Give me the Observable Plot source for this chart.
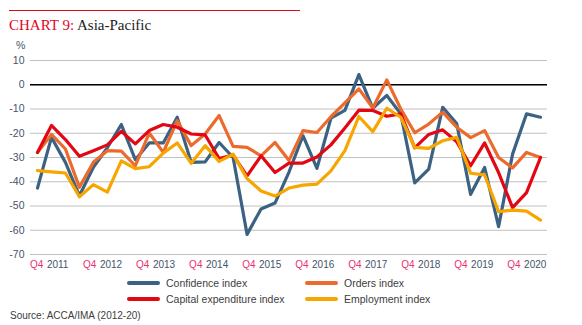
<!DOCTYPE html>
<html><head><meta charset="utf-8">
<script src="https://cdn.jsdelivr.net/npm/d3@7"></script>
<script src="https://cdn.jsdelivr.net/npm/@observablehq/plot@0.6"></script>
<style>
body{margin:0;background:#fff;}
#wrap{position:relative;width:582px;height:325px;overflow:hidden;font-family:"Liberation Sans",Arial,sans-serif;}
#topline{position:absolute;left:9px;top:10px;width:291px;height:1.3px;background:#e3051b;}
#title{position:absolute;left:9px;top:18px;font-family:"Liberation Serif",serif;font-size:15px;line-height:15px;color:#1c1c1c;white-space:nowrap;}
#title .red{color:#e3051b;}
#pct{position:absolute;left:16px;top:39px;font-size:10.5px;line-height:12px;color:#44546a;}
#chart{position:absolute;left:0;top:36px;}
.lg{position:absolute;font-size:10.5px;line-height:12px;color:#404040;white-space:nowrap;}
.sw{position:absolute;width:33px;height:4px;border-radius:2px;}
#source{position:absolute;left:10px;top:310px;font-size:10px;line-height:12px;color:#404040;white-space:nowrap;}
</style></head><body>
<div id="wrap">
 <div id="topline"></div>
 <div id="title"><span class="red">CHART 9:</span> Asia-Pacific</div>
 <div id="pct">%</div>
 <div id="chart"></div>
 <div id="legend"></div>
 <div id="source">Source: ACCA/IMA (2012-20)</div>
</div>
<script>
// Series values, one per quarter (37 points)
const confidence = [-42.6,-21.7,-32,-45.8,-34,-26,-16.4,-30.9,-24,-24,-13.4,-32,-31.8,-23.8,-30,-61.7,-51.2,-48.8,-36,-21,-34.5,-13.8,-10.6,4.2,-9.7,-4.4,-12,-40.5,-34.8,-9.3,-16,-45.2,-34.1,-58.5,-28.6,-12,-13.4];
const orders     = [-28,-20.5,-26.5,-42.3,-32,-27.2,-27.4,-33.4,-19.9,-27.9,-14.8,-25.1,-20.3,-12.7,-25.4,-25.8,-29.3,-23.8,-31.2,-18.9,-19.7,-13.2,-7.5,-1.7,-9.6,2,-10,-19.8,-16.2,-11.3,-17.5,-21.8,-18.9,-30,-34.3,-27.9,-30];
const capex      = [-27.9,-16.8,-22.6,-29.5,-27.2,-24.8,-19.2,-24.4,-18.9,-16.4,-17.5,-20.3,-20.7,-30.4,-29,-37.6,-29.3,-36.2,-32.3,-32.3,-29.8,-24.8,-17.8,-10.5,-10.6,-13,-12,-26,-20.5,-18.6,-23.5,-33.4,-24,-36.2,-50.7,-44.5,-30];
const employment = [-35.4,-35.9,-36.4,-46.2,-41.2,-44.3,-31.4,-34.6,-33.8,-28.2,-24,-32.4,-25.1,-31.6,-28.6,-38.7,-43.8,-45.9,-42.6,-41.4,-41,-35.5,-27.2,-13.1,-19.3,-9.7,-13.4,-25.8,-26.2,-23.1,-21.7,-36.5,-37.2,-52.3,-51.7,-52.1,-55.8];

const seriesNames = ["Confidence index","Orders index","Capital expenditure index","Employment index"];
const seriesColors = ["#3b6282","#ec6a2c","#e30613","#f7a600"];
const yTicks = [10,0,-10,-20,-30,-40,-50,-60,-70];
const xQuarter = "Q4";
const xYears = ["2011","2012","2013","2014","2015","2016","2017","2018","2019","2020"];

const allSeries = [confidence, orders, capex, employment];
const rows = allSeries.flatMap((vals, k) => vals.map((v, i) => ({i, v, s: seriesNames[k]})));
const n = confidence.length;
// axis labels sit on a 39-slot quarterly axis sharing the plot width
const slots = 39;
const tickPos = xYears.map((_, k) => -0.5 + (4 * k + 1.5) * n / slots);
const xLab = xYears.map((y, k) => ({y, p: tickPos[k]}));

const plot = Plot.plot({
  width: 582, height: 239,
  marginTop: 24, marginBottom: 21, marginLeft: 30, marginRight: 35,
  style: {color: "#44546a", fontFamily: "'Liberation Sans', Arial, sans-serif", fontSize: "10.5px", background: "transparent", overflow: "visible"},
  x: {domain: [-0.5, n - 0.5], axis: null},
  y: {domain: [-70, 10]},
  color: {domain: seriesNames, range: seriesColors},
  marks: [
    Plot.ruleY(yTicks, {stroke: "#c0c0c0", strokeWidth: 1}),
    Plot.ruleY([0], {stroke: "#000", strokeWidth: 1.6}),
    Plot.axisY(yTicks, {tickSize: 0, tickPadding: 6, tickFormat: d => String(d), label: null, fontSize: 10.5}),
    Plot.line(rows, {x: "i", y: "v", z: "s", stroke: "s", strokeWidth: 3.2, strokeLinejoin: "round", strokeLinecap: "round"}),
    Plot.text(xLab, {x: "p", text: () => xQuarter, frameAnchor: "bottom", textAnchor: "end", dx: -7, dy: 10.5, lineAnchor: "middle", fill: "#e8336d", fontSize: 10}),
    Plot.text(xLab, {x: "p", text: "y", frameAnchor: "bottom", textAnchor: "start", dx: -3.5, dy: 10.5, lineAnchor: "middle", fill: "#44546a", fontSize: 10})
  ]
});
document.getElementById("chart").appendChild(plot);

// legend
const legend = document.getElementById("legend");
const lgPos = [[127, 283], [305, 283], [127, 299], [305, 299]];
seriesNames.forEach((name, k) => {
  const [lx, ly] = lgPos[k];
  const sw = document.createElement("div");
  sw.className = "sw"; sw.style.left = lx + "px"; sw.style.top = (ly - 2) + "px"; sw.style.background = seriesColors[k];
  legend.appendChild(sw);
  const t = document.createElement("div");
  t.className = "lg"; t.style.left = (lx + 39) + "px"; t.style.top = (ly - 6.5) + "px"; t.textContent = name;
  legend.appendChild(t);
});
</script>
</body></html>
